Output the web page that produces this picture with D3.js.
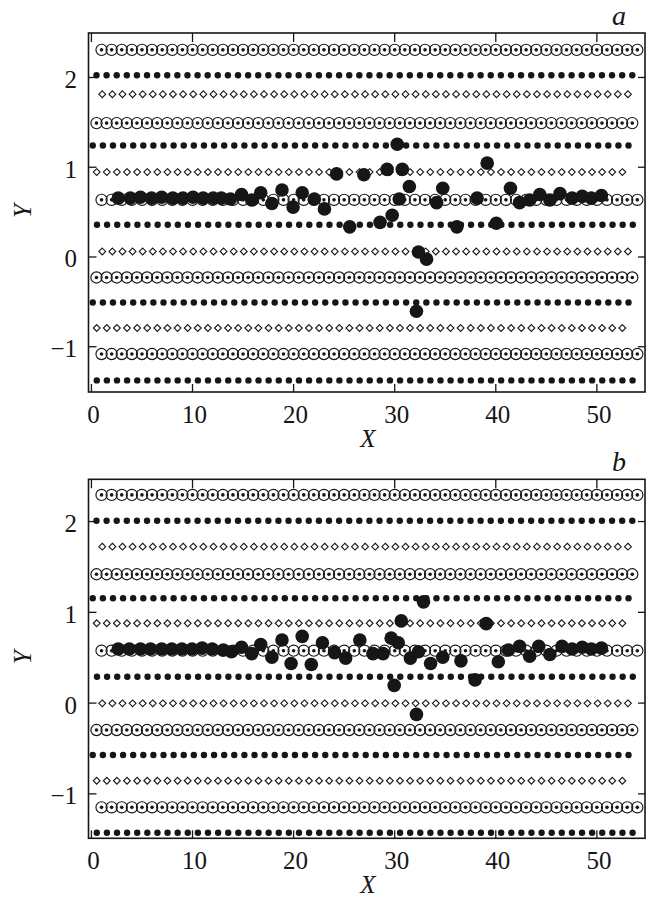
<!DOCTYPE html>
<html><head><meta charset="utf-8">
<script src="https://cdn.jsdelivr.net/npm/d3@7"></script>
<style>html,body{margin:0;padding:0;background:#fff;} svg{display:block}</style>
</head><body>
<script>
// ---------- data ----------
const xTicks = [0, 10, 20, 30, 40, 50];
const yTicks = [-1, 0, 1, 2];
const panelLabels = ["a", "b"];
const xAxisTitle = "X";
const yAxisTitle = "Y";

// lattice site index along each row
const siteCols = [0,1,2,3,4,5,6,7,8,9,10,11,12,13,14,15,16,17,18,19,20,21,22,23,24,25,26,27,28,29,30,31,32,33,34,35,36,37,38,39,40,41,42,43,44,45,46,47,48,49,50,51,52,53];

// lattice rows (top to bottom): marker kind, first site X, number of sites
const rowKind   = ["ring","dot","diamond","ring","dot","diamond","ring","dot","diamond","ring","dot","diamond","ring","dot"];
const rowStartX = [1.05, 0.55, 1.12, 0.55, 0.18, 0.57, 1.05, 0.6, 1.12, 0.55, 0.18, 0.57, 1.05, 0.58];
const rowCount  = [54, 54, 53, 54, 54, 53, 54, 54, 53, 54, 54, 53, 54, 54];
const rowY_a = [2.302, 2.020, 1.808, 1.486, 1.236, 0.940, 0.631, 0.353, 0.056, -0.234, -0.512, -0.797, -1.087, -1.381];
const rowY_b = [2.288, 2.004, 1.718, 1.414, 1.149, 0.874, 0.572, 0.285, -0.008, -0.302, -0.577, -0.861, -1.154, -1.434];

// displaced (large) particles
const bigA_x = [2.7, 3.9, 4.9, 6.0, 7.0, 8.1, 9.1, 10.1, 11.1, 12.1, 12.9, 13.8, 14.9, 15.9, 16.8, 17.9, 18.9, 20.0, 20.9, 22.1, 23.1, 24.3, 25.6, 27.0, 28.6, 29.3, 29.8, 30.3, 30.5, 30.8, 31.5, 32.2, 32.4, 33.2, 34.2, 34.8, 36.2, 38.2, 39.2, 40.1, 41.5, 42.4, 43.4, 44.4, 45.4, 46.4, 47.6, 48.6, 49.5, 50.5];
const bigA_y = [0.65, 0.65, 0.66, 0.65, 0.66, 0.65, 0.65, 0.66, 0.65, 0.65, 0.65, 0.64, 0.69, 0.63, 0.71, 0.59, 0.74, 0.55, 0.71, 0.64, 0.53, 0.92, 0.33, 0.91, 0.38, 0.97, 0.46, 1.25, 0.64, 0.97, 0.78, -0.61, 0.05, -0.03, 0.60, 0.76, 0.33, 0.65, 1.04, 0.37, 0.76, 0.60, 0.63, 0.69, 0.63, 0.70, 0.65, 0.67, 0.65, 0.68];
const bigB_x = [2.7, 3.8, 4.9, 5.9, 7.0, 8.0, 9.0, 10.0, 11.0, 12.0, 13.1, 13.9, 14.9, 15.9, 16.8, 17.9, 18.9, 19.8, 20.9, 21.8, 22.9, 24.1, 25.2, 26.6, 27.9, 28.9, 29.7, 30.0, 30.4, 30.7, 31.6, 32.2, 32.4, 32.9, 33.6, 34.8, 36.6, 38.0, 39.1, 40.3, 41.3, 42.4, 43.4, 44.3, 45.4, 46.6, 47.6, 48.6, 49.5, 50.5];
const bigB_y = [0.59, 0.59, 0.59, 0.59, 0.59, 0.59, 0.59, 0.59, 0.60, 0.59, 0.58, 0.56, 0.61, 0.54, 0.64, 0.50, 0.69, 0.43, 0.73, 0.42, 0.66, 0.55, 0.49, 0.69, 0.54, 0.54, 0.71, 0.19, 0.66, 0.90, 0.49, -0.13, 0.56, 1.11, 0.43, 0.50, 0.46, 0.25, 0.87, 0.45, 0.58, 0.62, 0.51, 0.62, 0.53, 0.62, 0.59, 0.61, 0.59, 0.60];

// ---------- layout ----------
const W = 653, H = 898;
const FONT = "'Liberation Serif','Times New Roman',Times,serif";
const INK = "#161616";
const panels = [
  { label: panelLabels[0], top: 33,    bottom: 392,   yDom: [-1.51, 2.49],  rowY: rowY_a, bx: bigA_x, by: bigA_y },
  { label: panelLabels[1], top: 479.3, bottom: 838.3, yDom: [-1.495, 2.46], rowY: rowY_b, bx: bigB_x, by: bigB_y }
];
const left = 88.5, right = 645;

const svg = d3.select("body").append("svg").attr("width", W).attr("height", H)
  .style("background", "#fff");

const x = d3.scaleLinear().domain([-0.24, 54.81]).range([left, right]);

panels.forEach(p => {
  const y = d3.scaleLinear().domain(p.yDom).range([p.bottom, p.top]);
  const g = svg.append("g");

  // lattice rows
  rowKind.forEach((kind, i) => {
    const pts = siteCols.slice(0, rowCount[i]).map(c => ({ x: rowStartX[i] + c, y: p.rowY[i] }));
    const rg = g.append("g");
    if (kind === "ring") {
      rg.selectAll("circle.ring").data(pts).join("circle")
        .attr("class", "ring")
        .attr("cx", d => x(d.x)).attr("cy", d => y(d.y)).attr("r", 5.6)
        .attr("fill", "none").attr("stroke", INK).attr("stroke-width", 1.15);
      rg.selectAll("circle.core").data(pts).join("circle")
        .attr("class", "core")
        .attr("cx", d => x(d.x)).attr("cy", d => y(d.y)).attr("r", 1.8)
        .attr("fill", INK);
    } else if (kind === "dot") {
      rg.selectAll("circle").data(pts).join("circle")
        .attr("cx", d => x(d.x)).attr("cy", d => y(d.y)).attr("r", 3.2)
        .attr("fill", INK);
    } else {
      const s = 3.4;
      rg.selectAll("path").data(pts).join("path")
        .attr("d", d => {
          const cx = x(d.x), cy = y(d.y);
          return `M${cx},${cy - s}L${cx + s},${cy}L${cx},${cy + s}L${cx - s},${cy}Z`;
        })
        .attr("fill", "#fff").attr("stroke", INK).attr("stroke-width", 1.1);
    }
  });

  // large displaced particles
  const big = p.bx.map((v, i) => ({ x: v, y: p.by[i] }));
  g.append("g").selectAll("circle").data(big).join("circle")
    .attr("cx", d => x(d.x)).attr("cy", d => y(d.y)).attr("r", 6.8)
    .attr("fill", INK);

  // axes (inward ticks)
  const styleAxis = sel => {
    sel.select(".domain").remove();
    sel.selectAll("line").attr("stroke", INK).attr("stroke-width", 1.3);
    sel.attr("font-family", FONT);
  };
  const bx = g.append("g").attr("transform", `translate(0,${p.bottom})`)
    .call(d3.axisBottom(x).tickValues(xTicks).tickSizeInner(-8).tickSizeOuter(0).tickFormat(d3.format("d")));
  styleAxis(bx);
  bx.selectAll("text").attr("y", 31).attr("dy", 0).attr("dx", 2)
    .attr("font-size", 25).attr("fill", INK);

  const tx = g.append("g").attr("transform", `translate(0,${p.top})`)
    .call(d3.axisTop(x).tickValues(xTicks).tickSizeInner(-9).tickSizeOuter(0).tickFormat(""));
  styleAxis(tx);

  const ly = g.append("g").attr("transform", `translate(${left},0)`)
    .call(d3.axisLeft(y).tickValues(yTicks).tickSizeInner(-8).tickSizeOuter(0)
      .tickFormat(d => d < 0 ? "\u2212" + Math.abs(d) : String(d)));
  styleAxis(ly);
  ly.selectAll("text").attr("x", -11.5).attr("dy", "0.42em")
    .attr("font-size", 25).attr("fill", INK);

  const ry = g.append("g").attr("transform", `translate(${right},0)`)
    .call(d3.axisRight(y).tickValues(yTicks).tickSizeInner(-7).tickSizeOuter(0).tickFormat(""));
  styleAxis(ry);

  // frame
  g.append("rect").attr("x", left).attr("y", p.top)
    .attr("width", right - left).attr("height", p.bottom - p.top)
    .attr("fill", "none").attr("stroke", INK).attr("stroke-width", 1.6);

  // titles
  g.append("text").attr("x", 368).attr("y", p.bottom + 55)
    .attr("text-anchor", "middle").attr("font-family", FONT).attr("font-style", "italic")
    .attr("font-size", 25).attr("fill", INK).text(xAxisTitle);
  g.append("text").attr("transform", `translate(22,${p.top + 178}) rotate(-90)`)
    .attr("text-anchor", "middle").attr("dominant-baseline", "central")
    .attr("font-family", FONT).attr("font-style", "italic")
    .attr("font-size", 25).attr("fill", INK).text(yAxisTitle);
  g.append("text").attr("x", 619).attr("y", p.top - 8.5)
    .attr("text-anchor", "middle").attr("font-family", FONT).attr("font-style", "italic")
    .attr("font-size", 28).attr("fill", INK).text(p.label);
});
</script>
</body></html>
